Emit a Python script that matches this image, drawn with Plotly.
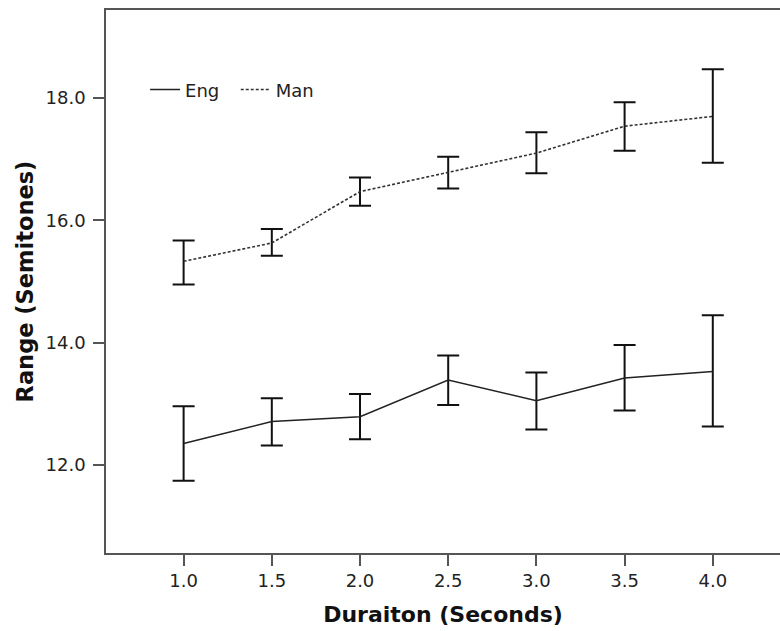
import plotly.graph_objects as go

durations = [1.0, 1.5, 2.0, 2.5, 3.0, 3.5, 4.0]

eng_mean = [12.35, 12.71, 12.79, 13.39, 13.05, 13.42, 13.53]
eng_upper = [12.96, 13.09, 13.16, 13.79, 13.51, 13.96, 14.45]
eng_lower = [11.74, 12.32, 12.42, 12.98, 12.58, 12.89, 12.63]

man_mean = [15.33, 15.63, 16.47, 16.78, 17.10, 17.54, 17.70]
man_upper = [15.67, 15.86, 16.70, 17.04, 17.44, 17.93, 18.47]
man_lower = [14.95, 15.42, 16.24, 16.52, 16.77, 17.14, 16.94]

x_ticks = [1.0, 1.5, 2.0, 2.5, 3.0, 3.5, 4.0]
x_ticklabels = ["1.0", "1.5", "2.0", "2.5", "3.0", "3.5", "4.0"]
y_ticks = [12.0, 14.0, 16.0, 18.0]
y_ticklabels = ["12.0", "14.0", "16.0", "18.0"]

FONT = "DejaVu Sans"

def err(mean, up, lo):
    return dict(
        type="data", symmetric=False,
        array=[u - m for u, m in zip(up, mean)],
        arrayminus=[m - l for m, l in zip(mean, lo)],
        color="#111111", thickness=2, width=11,
    )

fig = go.Figure()
fig.add_trace(go.Scatter(
    x=durations, y=eng_mean, mode="lines", name="Eng\u00a0\u00a0",
    line=dict(color="#222222", width=1.5),
    error_y=err(eng_mean, eng_upper, eng_lower),
))
fig.add_trace(go.Scatter(
    x=durations, y=man_mean, mode="lines", name="Man",
    line=dict(color="#333333", width=1.6, dash="3px,2px"),
    error_y=err(man_mean, man_upper, man_lower),
))

fig.update_layout(
    width=780, height=631,
    margin=dict(l=106, r=0, t=10, b=78),
    plot_bgcolor="white", paper_bgcolor="white",
    font=dict(family=FONT, size=18, color="#222222"),
    showlegend=True,
    legend=dict(
        orientation="h", x=0.058, y=0.853, xanchor="left", yanchor="middle",
        bgcolor="rgba(0,0,0,0)", font=dict(size=18, color="#222222"),
        itemwidth=30, tracegroupgap=0,
    ),
    xaxis=dict(
        range=[0.56, 4.381], tickmode="array", tickvals=x_ticks, ticktext=x_ticklabels,
        showgrid=False, zeroline=False, showline=True, linecolor="#555555", linewidth=1.5,
        mirror=True, ticks="outside", ticklen=11, tickwidth=1.5, tickcolor="#555555",
        tickfont=dict(size=18, color="#222222"),
        title=dict(text="<b>Duraiton (Seconds)</b>", font=dict(size=22, color="#111111"), standoff=16),
    ),
    yaxis=dict(
        range=[10.56, 19.44], tickmode="array", tickvals=y_ticks, ticktext=y_ticklabels,
        showgrid=False, zeroline=False, showline=True, linecolor="#555555", linewidth=1.5,
        ticks="outside", ticklen=11, tickwidth=1.5, tickcolor="#555555",
        ticklabelstandoff=4,
        tickfont=dict(size=18, color="#222222"),
        title=dict(text="<b>Range (Semitones)</b>", font=dict(size=22.5, color="#111111"), standoff=6),
    ),
)

fig.write_html(
    "out.html",
    config={"displayModeBar": False},
    post_script="document.body.style.margin='0';document.body.style.overflow='hidden';",
)
